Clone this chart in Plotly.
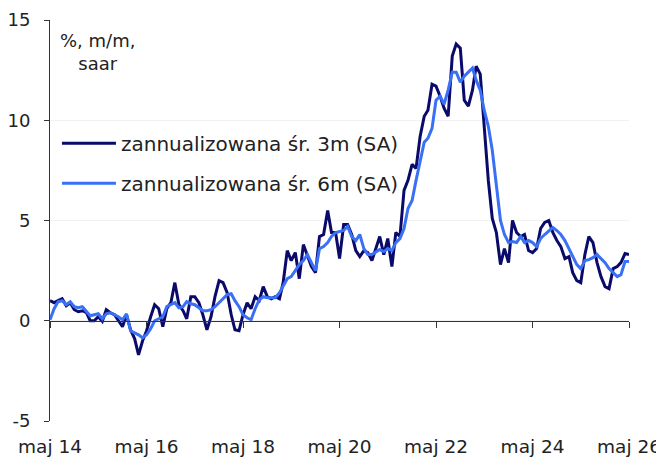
import pandas as pd
import plotly.graph_objects as go

dates = pd.date_range("2014-05-01", "2026-05-01", freq="MS").strftime("%Y-%m-%d").tolist()

avg_3m = [
    1.0, 0.9, 1.0, 1.1, 0.75, 0.9, 0.55, 0.45, 0.5, 0.4,
    0.0, 0.0, 0.2, -0.03, 0.55, 0.4, 0.3, 0.0, -0.3, 0.3,
    -0.45, -0.9, -1.7, -1.0, -0.5, 0.2, 0.8, 0.6, -0.3, 0.6,
    0.9, 1.9, 0.8, 0.5, 0.1, 1.2, 1.2, 0.9, 0.3, -0.45,
    0.2, 1.2, 2.0, 1.9, 1.4, 0.3, -0.45, -0.5, 0.3, 0.9,
    0.6, 1.2, 1.0, 1.7, 1.2, 1.1, 1.2, 1.1, 1.9, 3.5,
    3.0, 3.4, 2.1, 3.8, 3.2, 2.7, 2.4, 4.2, 4.3, 5.5,
    4.4, 4.4, 3.1, 4.8, 4.8, 4.3, 3.5, 3.2, 3.5, 3.4,
    3.0, 3.7, 4.2, 3.3, 4.1, 2.7, 4.4, 4.2, 6.5, 7.0,
    7.8, 7.6, 9.2, 10.2, 10.5, 11.8, 11.7, 11.2, 10.6, 10.2,
    13.2, 13.8, 13.6, 11.0, 10.7, 11.5, 12.7, 12.3, 9.5, 7.0,
    5.1, 4.4, 2.8, 3.6, 2.9, 5.0, 4.4, 4.2, 4.3, 3.5,
    3.4, 3.6, 4.6, 4.9, 5.0, 4.4, 4.0, 3.7, 3.1, 3.2,
    2.4, 2.0, 1.9, 3.3, 4.2, 3.9, 2.9, 2.2, 1.7, 1.6,
    2.6, 2.7, 2.9, 3.35, 3.3,
]

avg_6m = [
    0.05, 0.6, 0.95, 1.0, 0.8, 0.95, 0.7, 0.65, 0.7, 0.45,
    0.25, 0.3, 0.35, 0.1, 0.35, 0.4, 0.3, 0.2, 0.05, 0.35,
    -0.5, -0.6, -0.7, -0.85, -0.7, -0.4, 0.0, 0.1, 0.2, 0.7,
    0.8, 0.9, 0.65, 0.7, 0.95, 0.85, 0.8, 0.65, 0.5, 0.5,
    0.55, 0.7, 0.9, 1.1, 1.3, 1.35, 1.0, 0.7, 0.3, 0.15,
    0.05, 0.6, 1.05, 1.2, 1.15, 1.15, 1.15, 1.4, 1.7, 2.1,
    2.2, 2.5, 2.8, 3.0, 3.3, 2.9, 2.5, 3.6, 3.7, 3.9,
    4.2, 4.4, 4.45, 4.5, 4.7, 4.2, 4.0, 4.3, 3.6, 3.3,
    3.3, 3.45, 3.55, 3.45, 3.6, 3.5, 3.9, 4.1, 4.6, 5.6,
    6.0, 7.0, 8.0, 8.9, 9.1, 9.6, 11.0, 11.2, 10.8, 11.5,
    12.4, 12.4, 11.9, 12.2, 12.4, 12.6, 12.0, 11.5, 10.5, 9.7,
    8.5, 6.8, 5.0, 4.3, 3.9, 3.95, 3.9, 4.2, 3.9, 4.0,
    3.9, 3.7, 4.1, 4.3, 4.5, 4.65, 4.5, 4.3, 4.0, 3.6,
    3.2, 2.8, 2.6, 3.0, 3.05, 3.15, 3.3, 3.1, 2.9, 2.6,
    2.4, 2.2, 2.3, 2.95, 2.95,
]

tick_dates = ["2014-05-01", "2016-05-01", "2018-05-01", "2020-05-01",
              "2022-05-01", "2024-05-01", "2026-05-01"]
tick_labels = ["maj 14", "maj 16", "maj 18", "maj 20", "maj 22", "maj 24", "maj 26"]
y_ticks = [-5, 0, 5, 10, 15]
y_tick_labels = ["-5", "0", "5", "10", "15"]

name_3m = "zannualizowana śr. 3m (SA)"
name_6m = "zannualizowana śr. 6m (SA)"
unit_label = "%, m/m,<br>saar"

FONT = "DejaVu Sans"
DARK = "#0a0a6a"
LIGHT = "#3a70f5"

fig = go.Figure()
fig.add_trace(go.Scatter(x=dates, y=avg_3m, mode="lines", name=name_3m,
                         line=dict(color=DARK, width=3), legendgroup="a"))
fig.add_trace(go.Scatter(x=dates, y=avg_6m, mode="lines", name=name_6m,
                         line=dict(color=LIGHT, width=3), legendgroup="b"))
# invisible helper on the overlay axis (draws the zero-line axis with ticks)
fig.add_trace(go.Scatter(x=[dates[0]], y=[None], xaxis="x2", showlegend=False,
                         hoverinfo="skip", mode="lines"))

fig.update_layout(
    width=664, height=462,
    margin=dict(l=42, r=43, t=12, b=49, autoexpand=False),
    paper_bgcolor="white", plot_bgcolor="white",
    font=dict(family=FONT, size=17, color="#222222"),
    showlegend=True,
    legend=dict(x=0.012, y=0.741, xanchor="left", yanchor="top",
                bgcolor="rgba(0,0,0,0)", font=dict(size=20),
                itemwidth=54, tracegroupgap=11),
    xaxis=dict(type="date", range=["2014-05-01", "2026-05-01"],
               tickvals=tick_dates, ticktext=tick_labels, automargin=False,
               showline=False, showgrid=False, zeroline=False, ticks="",
               tickfont=dict(size=18.5), ticklabelstandoff=12),
    xaxis2=dict(type="date", overlaying="x", matches="x", anchor="free",
                position=0.25, side="bottom", automargin=False,
                tickvals=tick_dates, showticklabels=False,
                showline=True, linecolor="#333333", linewidth=1,
                ticks="outside", ticklen=6, tickcolor="#333333",
                showgrid=False, zeroline=False),
    yaxis=dict(range=[-5, 15], tickvals=y_ticks, ticktext=y_tick_labels,
               automargin=False,
               showline=True, linecolor="#333333", linewidth=1,
               ticks="outside", ticklen=5, tickcolor="#333333",
               showgrid=True, gridcolor="#f2f2f2", gridwidth=1,
               zeroline=False, tickfont=dict(size=18), ticklabelstandoff=10),
)

fig.add_annotation(text=unit_label, xref="paper", yref="paper",
                   x=0.013, y=0.98, xanchor="left", yanchor="top",
                   showarrow=False, align="center",
                   font=dict(size=18, color="#222222"))

fig.write_html("out.html")
